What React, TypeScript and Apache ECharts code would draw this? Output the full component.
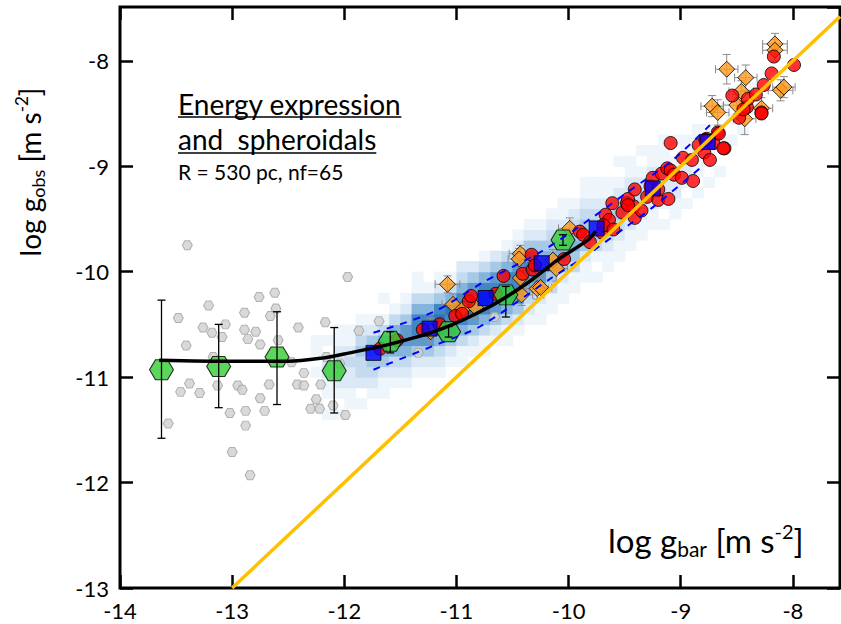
import React, { useEffect, useRef } from 'react';
import * as echarts from 'echarts';

// ---------- data ----------
const xMin = -14, xMax = -7.58, yMin = -13, yMax = -7.49;

const curve: number[][] = [
  [-13.65, -10.84], [-13.0, -10.85], [-12.5, -10.85], [-12.2, -10.82], [-12.0, -10.78],
  [-11.6, -10.69], [-11.15, -10.55], [-10.7, -10.33], [-10.37, -10.11], [-10.1, -9.89],
  [-9.83, -9.7], [-9.76, -9.62],
];
const upperBand: number[][] = [
  [-11.74, -10.58], [-11.2, -10.38], [-10.76, -10.1], [-10.23, -9.8], [-9.78, -9.48],
  [-9.48, -9.25], [-9.07, -8.94], [-8.74, -8.61],
];
const lowerBand: number[][] = [
  [-11.74, -10.93], [-11.15, -10.68], [-10.79, -10.52], [-10.14, -10.05], [-9.9, -9.89],
  [-9.48, -9.57], [-9.25, -9.39], [-8.83, -9.02],
];
const unityLine: number[][] = [[-13, -13], [-7.58, -7.58]];

const grayPoints: number[][] = [
  [-13.40, -9.75], [-13.48, -10.44], [-13.21, -10.32], [-13.41, -10.70], [-13.26, -10.53],
  [-13.18, -10.58], [-13.09, -10.62], [-13.06, -10.50], [-12.89, -10.39], [-12.89, -10.55],
  [-12.86, -10.64], [-12.79, -10.57], [-12.76, -10.24], [-12.62, -10.20], [-12.61, -10.35],
  [-12.66, -10.42], [-12.75, -10.69], [-12.59, -10.65], [-12.41, -10.53], [-12.17, -10.48],
  [-11.97, -10.05], [-11.87, -10.56], [-11.69, -10.47], [-13.17, -10.81], [-12.47, -10.86],
  [-12.16, -10.81], [-12.04, -10.87], [-12.36, -10.96], [-13.38, -11.06], [-13.46, -11.14],
  [-13.29, -11.15], [-13.13, -11.08], [-12.95, -11.08], [-12.91, -11.12], [-12.67, -11.07],
  [-12.42, -11.07], [-12.36, -11.08], [-12.21, -11.07], [-12.75, -11.20], [-12.25, -11.21],
  [-12.30, -11.30], [-12.22, -11.30], [-12.10, -11.27], [-11.99, -11.36], [-13.02, -11.34],
  [-12.88, -11.32], [-12.71, -11.32], [-12.88, -11.46], [-13.57, -11.44], [-13.00, -11.71],
  [-12.84, -11.93], [-10.66, -10.43], [-11.34, -10.77],
];

// [x, y, yLow, yHigh]
const greenPoints: number[][] = [
  [-13.63, -10.93, -11.58, -10.27],
  [-13.12, -10.90, -11.29, -10.50],
  [-12.60, -10.81, -11.26, -10.38],
  [-12.09, -10.94, -11.34, -10.53],
  [-11.59, -10.66, -10.77, -10.57],
  [-11.07, -10.57, -10.62, -10.52],
  [-10.56, -10.22, -10.43, -10.14],
  [-10.05, -9.70, -9.75, -9.65],
];

const blueSquares: number[][] = [
  [-11.74, -10.77], [-11.24, -10.54], [-10.74, -10.25], [-10.24, -9.92],
  [-9.75, -9.59], [-9.25, -9.21], [-8.76, -8.77],
];

const redCircles: number[][] = [
  [-11.68, -10.73], [-11.53, -10.65], [-11.30, -10.55], [-11.15, -10.50], [-11.01, -10.42],
  [-10.95, -10.40], [-10.89, -10.28], [-10.87, -10.23], [-10.65, -10.21], [-10.58, -10.04],
  [-10.41, -10.02], [-10.32, -9.98], [-10.33, -9.84], [-10.30, -9.94], [-10.04, -9.88],
  [-9.90, -9.62], [-9.87, -9.65], [-9.81, -9.72], [-9.70, -9.63], [-9.67, -9.46],
  [-9.64, -9.51], [-9.69, -9.56], [-9.60, -9.60], [-9.61, -9.35], [-9.52, -9.44],
  [-9.48, -9.35], [-9.42, -9.38], [-9.41, -9.49], [-9.47, -9.31], [-9.47, -9.37],
  [-9.41, -9.22], [-9.35, -9.42], [-9.30, -9.29], [-9.27, -9.19], [-9.25, -9.11],
  [-9.20, -9.32], [-9.20, -9.22], [-9.17, -9.07], [-9.11, -9.31], [-9.12, -9.02],
  [-9.09, -9.04], [-9.06, -9.08], [-8.99, -9.11], [-8.89, -9.14], [-8.98, -8.92],
  [-8.90, -8.94], [-9.09, -8.78], [-8.84, -8.80], [-8.79, -8.87], [-8.74, -8.94],
  [-8.77, -8.74], [-8.71, -8.78], [-8.67, -8.68], [-8.61, -8.83], [-8.48, -8.54],
  [-8.41, -8.44], [-8.28, -8.49], [-8.78, -8.75], [-8.66, -8.69], [-8.62, -8.83],
  [-8.54, -8.33], [-8.44, -8.46], [-8.40, -8.36], [-8.33, -8.32], [-8.26, -8.23],
  [-8.19, -8.12], [-8.28, -8.50], [-8.17, -7.96], [-7.99, -8.04],
];

// [x, y, xErr, yErr]
const orangeDiamonds: number[][] = [
  [-11.08, -10.12, 0.11, 0.08], [-11.03, -10.31, 0.1, 0.1], [-10.94, -10.35, 0.1, 0.1],
  [-10.83, -10.34, 0.1, 0.1], [-11.23, -10.57, 0.1, 0.13], [-10.43, -9.83, 0.1, 0.08],
  [-10.44, -9.88, 0.1, 0.1], [-10.43, -10.06, 0.1, 0.1], [-10.42, -10.22, 0.1, 0.1],
  [-10.28, -10.16, 0.1, 0.1], [-10.14, -9.89, 0.1, 0.1], [-10.11, -9.97, 0.1, 0.12],
  [-9.99, -9.59, 0.1, 0.1], [-10.25, -10.15, 0.1, 0.1], [-8.16, -7.84, 0.11, 0.1],
  [-8.16, -7.90, 0.11, 0.1], [-8.59, -8.08, 0.1, 0.14], [-8.42, -8.16, 0.1, 0.12],
  [-8.46, -8.29, 0.11, 0.1], [-8.50, -8.42, 0.12, 0.1], [-8.72, -8.43, 0.1, 0.1],
  [-8.67, -8.49, 0.1, 0.12], [-8.43, -8.55, 0.1, 0.15], [-8.28, -8.45, 0.1, 0.1],
  [-8.11, -8.28, 0.11, 0.1], [-8.08, -8.25, 0.1, 0.1],
];

// 2D histogram: [x centre, y centre of lowest cell, intensity digits bottom -> top]
const heatColumns: [number, number, string][] = [
  [-12.25, -11.25, '1001011'],
  [-12.15, -11.35, '10112201'],
  [-12.05, -11.35, '101222211'],
  [-11.95, -11.25, '11223211'],
  [-11.85, -11.25, '102334321'],
  [-11.75, -11.15, '12345421'],
  [-11.65, -11.15, '1124553101'],
  [-11.55, -11.05, '12356531'],
  [-11.45, -11.05, '123566421'],
  [-11.35, -10.95, '1246775311'],
  [-11.25, -10.95, '124677531'],
  [-11.15, -10.95, '1235787421'],
  [-11.05, -10.85, '124678531'],
  [-10.95, -10.85, '1135787532'],
  [-10.85, -10.75, '124687642'],
  [-10.75, -10.75, '1135787531'],
  [-10.65, -10.65, '124677642'],
  [-10.55, -10.65, '1135677531'],
  [-10.45, -10.55, '1246776421'],
  [-10.35, -10.45, '1235676421'],
  [-10.25, -10.45, '1124665421'],
  [-10.15, -10.35, '1134554321'],
  [-10.05, -10.25, '1124543211'],
  [-9.95, -10.15, '113454321'],
  [-9.85, -10.05, '1124543211'],
  [-9.75, -10.05, '1013443211'],
  [-9.65, -9.95, '112343211'],
  [-9.55, -9.85, '1123432101'],
  [-9.45, -9.75, '112332211'],
  [-9.35, -9.65, '112332101'],
  [-9.25, -9.55, '11232211'],
  [-9.15, -9.55, '101222111'],
  [-9.05, -9.45, '11221101'],
  [-8.95, -9.35, '1012211'],
  [-8.85, -9.25, '1011211'],
  [-8.75, -9.15, '101121'],
  [-8.65, -9.05, '1001101'],
  [-8.55, -8.85, '010101'],
  [-8.45, -8.75, '01001'],
  [-8.35, -8.45, '101'],
];

const heatPalette = ['#ffffff', '#eef5fb', '#dbe9f6', '#c4dbef', '#a6c9e6', '#84b3db', '#5f9ace', '#4386c3', '#2f74b6'];

const heatCells: number[][] = heatColumns.flatMap(([xc, yb, s]) =>
  s.split('').map((d, i) => [xc, +(yb + 0.1 * i).toFixed(2), +d]).filter((c) => c[2] > 0)
);

const hexPath = 'path://M0,433 L250,0 L750,0 L1000,433 L750,866 L250,866 Z';

function measure(text: string, font: string): number {
  const ctx = document.createElement('canvas').getContext('2d');
  if (!ctx) return text.length * 12;
  ctx.font = font;
  return ctx.measureText(text).width;
}

export default function App() {
  const ref = useRef<HTMLDivElement>(null);
  useEffect(() => {
    if (!ref.current) return;
    const chart = echarts.init(ref.current, undefined, { renderer: 'svg' });
    const FONT = 'Lato';
    const w1 = measure('Energy expression', `28px ${FONT}`);
    const w2 = measure('and  spheroidals', `28px ${FONT}`);

    const axisCommon = {
      type: 'value' as const,
      interval: 1,
      splitLine: { show: false },
      axisLine: { show: false },
      axisTick: { show: true, inside: true, length: 13, lineStyle: { color: '#000', width: 2.5 } },
    };

    const errRender = (params: any, api: any) => {
      const x = api.value(0), lo = api.value(2), hi = api.value(3);
      const a = api.coord([x, lo]);
      const b = api.coord([x, hi]);
      const st = { stroke: '#000', lineWidth: 1.3 };
      return {
        type: 'group',
        children: [
          { type: 'line', shape: { x1: a[0], y1: a[1], x2: b[0], y2: b[1] }, style: st },
          { type: 'line', shape: { x1: a[0] - 4, y1: a[1], x2: a[0] + 4, y2: a[1] }, style: st },
          { type: 'line', shape: { x1: b[0] - 4, y1: b[1], x2: b[0] + 4, y2: b[1] }, style: st },
        ],
      };
    };

    const diamondErrRender = (params: any, api: any) => {
      const x = api.value(0), y = api.value(1), ex = api.value(2), ey = api.value(3);
      const l = api.coord([x - ex, y]);
      const r = api.coord([x + ex, y]);
      const t = api.coord([x, y + ey]);
      const bt = api.coord([x, y - ey]);
      const st = { stroke: '#8c8c8c', lineWidth: 1 };
      return {
        type: 'group',
        children: [
          { type: 'line', shape: { x1: l[0], y1: l[1], x2: r[0], y2: r[1] }, style: st },
          { type: 'line', shape: { x1: l[0], y1: l[1] - 4, x2: l[0], y2: l[1] + 4 }, style: st },
          { type: 'line', shape: { x1: r[0], y1: r[1] - 4, x2: r[0], y2: r[1] + 4 }, style: st },
          { type: 'line', shape: { x1: t[0], y1: t[1], x2: bt[0], y2: bt[1] }, style: st },
          { type: 'line', shape: { x1: t[0] - 4, y1: t[1], x2: t[0] + 4, y2: t[1] }, style: st },
          { type: 'line', shape: { x1: bt[0] - 4, y1: bt[1], x2: bt[0] + 4, y2: bt[1] }, style: st },
        ],
      };
    };

    const heatRender = (params: any, api: any) => {
      const x = api.value(0), y = api.value(1), lv = api.value(2);
      const p0 = api.coord([x - 0.05, y + 0.05]);
      const p1 = api.coord([x + 0.05, y - 0.05]);
      return {
        type: 'rect',
        shape: { x: p0[0], y: p0[1], width: p1[0] - p0[0] + 0.6, height: p1[1] - p0[1] + 0.6 },
        style: { fill: heatPalette[lv] },
      };
    };

    const xRich = {
      m: { fontSize: 33, fontFamily: FONT, lineHeight: 38, color: '#000' },
      sub: { fontSize: 21, fontFamily: FONT, lineHeight: 21, verticalAlign: 'bottom', color: '#000' },
      sup: { fontSize: 20, fontFamily: FONT, lineHeight: 21, verticalAlign: 'top', color: '#000' },
    };
    const yRich = {
      m: { fontSize: 28, fontFamily: FONT, lineHeight: 34, color: '#000' },
      sub: { fontSize: 18, fontFamily: FONT, lineHeight: 18, verticalAlign: 'bottom', color: '#000' },
      sup: { fontSize: 17, fontFamily: FONT, lineHeight: 18, verticalAlign: 'top', color: '#000' },
    };

    chart.setOption({
      animation: false,
      backgroundColor: '#fff',
      grid: {
        left: 120, right: 1, top: 7, bottom: 36, show: true, borderColor: '#000', borderWidth: 3,
        backgroundColor: 'transparent', containLabel: false, outerBoundsMode: 'none',
      },
      xAxis: [
        {
          ...axisCommon, min: xMin, max: xMax, position: 'bottom',
          axisLabel: { show: true, margin: 11, fontSize: 22, fontFamily: FONT, color: '#000', showMaxLabel: false, showMinLabel: true },
        },
        {
          ...axisCommon, min: xMin, max: xMax, position: 'top',
          axisLabel: { show: false },
        },
      ],
      yAxis: [
        {
          ...axisCommon, min: yMin, max: yMax, position: 'left',
          axisLabel: { show: true, margin: 11, fontSize: 22, fontFamily: FONT, color: '#000', showMaxLabel: false, showMinLabel: true },
        },
        {
          ...axisCommon, min: yMin, max: yMax, position: 'right',
          axisLabel: { show: false },
        },
      ],
      series: [
        { type: 'custom', name: 'density', renderItem: heatRender, data: heatCells, encode: { x: 0, y: 1 }, clip: true, z: 1, silent: true },
        {
          type: 'scatter', name: 'dwarfs', data: grayPoints, symbol: hexPath, symbolSize: [10, 9], z: 2,
          itemStyle: { color: '#cfcfcf', borderColor: '#a3a3a3', borderWidth: 1 },
        },
        { type: 'custom', name: 'diamondErr', renderItem: diamondErrRender, data: orangeDiamonds, encode: { x: 0, y: 1 }, clip: true, z: 3 },
        {
          type: 'scatter', name: 'diamonds', data: orangeDiamonds.map((d) => [d[0], d[1]]), symbol: 'diamond', symbolSize: [16, 16], z: 4,
          itemStyle: { color: '#ff9a1c', borderColor: '#000', borderWidth: 1 },
        },
        {
          type: 'scatter', name: 'red', data: redCircles, symbol: 'circle', symbolSize: 13, z: 5,
          itemStyle: { color: '#ff0000', borderColor: '#000', borderWidth: 1 },
        },
        {
          type: 'scatter', name: 'blue', data: blueSquares, symbol: 'rect', symbolSize: 15, z: 6,
          itemStyle: { color: '#0000ff', borderColor: '#000', borderWidth: 1 },
        },
        {
          type: 'scatter', name: 'green', data: greenPoints.map((d) => [d[0], d[1]]), symbol: hexPath, symbolSize: [24, 20], z: 7,
          itemStyle: { color: '#33cc33', borderColor: '#000', borderWidth: 1 },
        },
        { type: 'custom', name: 'greenErr', renderItem: errRender, data: greenPoints, encode: { x: 0, y: 1 }, clip: true, z: 8 },
        {
          type: 'line', name: 'upper', data: upperBand, showSymbol: false, smooth: 0.3, z: 9,
          lineStyle: { color: '#0000ff', width: 2, type: [7, 7] },
        },
        {
          type: 'line', name: 'lower', data: lowerBand, showSymbol: false, smooth: 0.3, z: 9,
          lineStyle: { color: '#0000ff', width: 2, type: [7, 7] },
        },
        {
          type: 'line', name: 'fit', data: curve, showSymbol: false, smooth: 0.3, z: 10,
          lineStyle: { color: '#000', width: 3.5 },
        },
        {
          type: 'line', name: 'unity', data: unityLine, showSymbol: false, z: 11,
          lineStyle: { color: '#ffc000', width: 3.5 },
        },
      ],
      graphic: [
        {
          type: 'text', x: 178, y: 104, z: 20,
          style: { text: 'Energy expression', fontSize: 28, fontFamily: FONT, fill: '#000', align: 'left', verticalAlign: 'middle' },
        },
        { type: 'line', z: 20, shape: { x1: 178, y1: 117, x2: 178 + w1, y2: 117 }, style: { stroke: '#000', lineWidth: 1.5 } },
        {
          type: 'text', x: 178, y: 139, z: 20,
          style: { text: 'and  spheroidals', fontSize: 28, fontFamily: FONT, fill: '#000', align: 'left', verticalAlign: 'middle' },
        },
        { type: 'line', z: 20, shape: { x1: 178, y1: 153, x2: 178 + w2, y2: 153 }, style: { stroke: '#000', lineWidth: 1.5 } },
        {
          type: 'text', x: 178, y: 171, z: 20,
          style: { text: 'R = 530 pc, nf=65', fontSize: 21, fontFamily: FONT, fill: '#000', align: 'left', verticalAlign: 'middle' },
        },
        {
          type: 'text', x: 608, y: 540, z: 20,
          style: {
            text: '{m|log g}{sub|bar}{m| [m s}{sup|-2}{m|]}', rich: xRich, align: 'left', verticalAlign: 'middle',
          },
        },
        {
          type: 'text', x: 30, y: 172, rotation: Math.PI / 2, z: 20,
          style: {
            text: '{m|log g}{sub|obs}{m| [m s}{sup|-2}{m|]}', rich: yRich, align: 'center', verticalAlign: 'middle',
          },
        },
      ],
    });
    return () => chart.dispose();
  }, []);
  return <div ref={ref} style={{ position: 'fixed', left: 0, top: 0, width: 841, height: 624 }} />;
}
